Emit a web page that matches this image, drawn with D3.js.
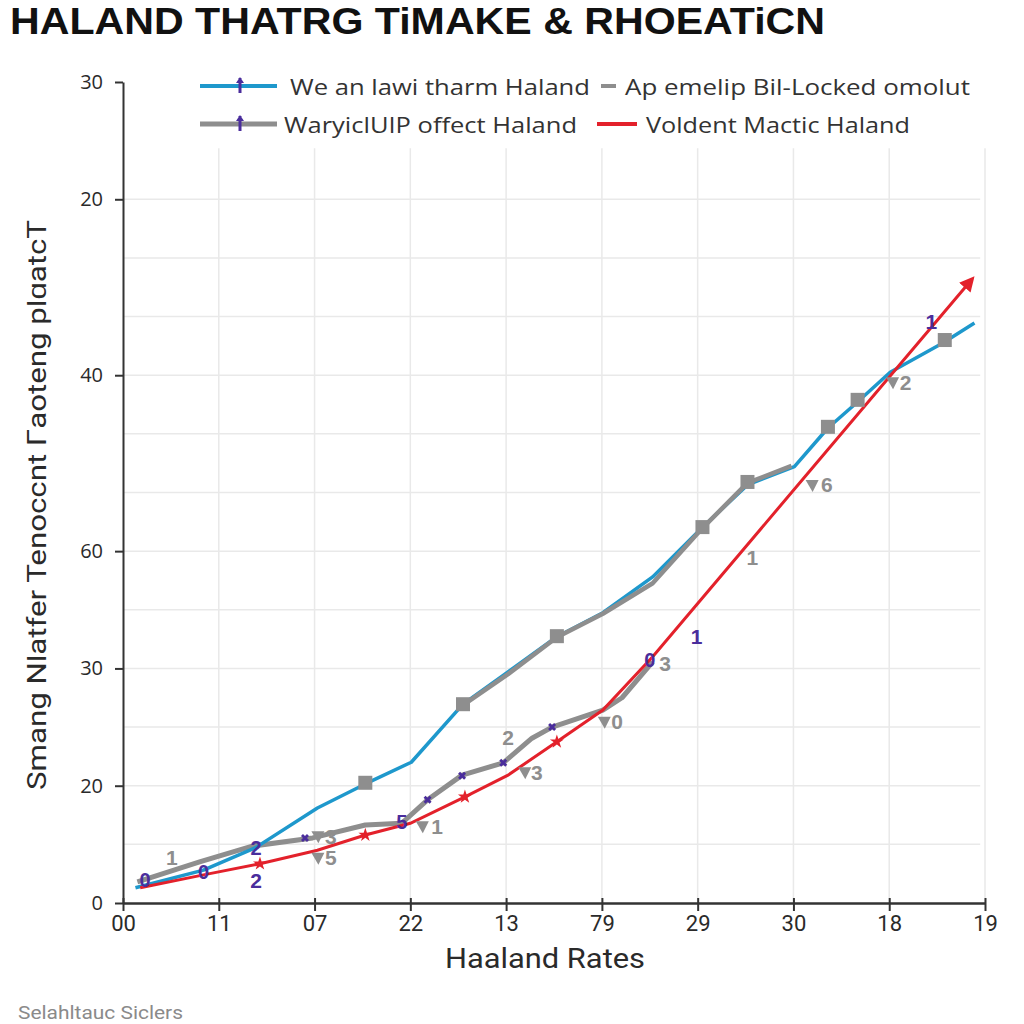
<!DOCTYPE html>
<html><head><meta charset="utf-8">
<script src="https://cdn.jsdelivr.net/npm/d3@7/dist/d3.min.js"></script>
<style>body{margin:0;background:#fff}svg{display:block}</style>
</head><body>
<svg id="c" width="1024" height="1024"></svg>
<script>
// ---------- data ----------
const titleText = "HALAND THATRG TiMAKE & RHOEATiCN";
const yTitle = "Smang Nlatfer Tenoccnt Гaoteng plɑatcT";
const xTitle = "Haaland Rates";
const footer = "Selahltauc Siclers";
const xTickLabels = ["00","11","07","22","13","79","29","30","18","19"];
const yTickVals = [0,2,4,6,9,12,14];
const yTickLabels = ["0","20","30","60","40","20","30"];
const seriesNames = ["We an lawi tharm Haland","Ap emelip Bil-Locked omolut","WaryiclUIP offect Haland","Voldent Mactic Haland"];

const blue = [[0.13,0.26],[0.84,0.56],[1.38,0.94],[2.03,1.62],[2.53,2.03],[3.01,2.40],[3.55,3.39],[4.02,3.94],[4.53,4.54],[5.01,4.95],[5.53,5.56],[6.04,6.39],[6.52,7.13],[7.01,7.44],[7.36,8.10],[7.66,8.53],[8.01,9.05],[8.56,9.55],[8.89,9.89]];
const grayA = [[3.55,3.39],[4.02,3.92],[4.53,4.55],[5.01,4.95],[5.53,5.47],[6.05,6.41],[6.52,7.18],[6.98,7.47]];
const grayASquares = [[2.53,2.05],[3.55,3.39],[4.53,4.55],[6.05,6.41],[6.52,7.18],[7.36,8.12],[7.67,8.58],[8.58,9.60]];
const grayB = [[0.15,0.36],[0.80,0.70],[1.35,0.97],[1.98,1.11],[2.53,1.33],[2.91,1.36],[3.18,1.76],[3.54,2.18],[3.97,2.39],[4.27,2.81],[4.48,3.00],[5.01,3.29],[5.21,3.50],[5.53,4.11]];
const red = [[0.18,0.26],[0.84,0.48],[1.43,0.67],[2.03,0.90],[2.53,1.16],[3.00,1.36],[3.57,1.81],[4.02,2.18],[4.53,2.75],[5.01,3.29],[5.53,4.20],[8.84,10.59]];
const redMarks = [[1.43,0.67],[2.53,1.16],[3.57,1.81],[4.53,2.75]];
const purpleGlyphs = [[0.23,0.39,"0"],[0.84,0.53,"0"],[1.39,0.94,"2"],[2.91,1.38,"5"],[5.50,4.14,"0"]];
const purpleDots = [[1.90,1.11],[3.18,1.76],[3.54,2.17],[3.97,2.39],[4.48,3.00]];
const grayTris = [[2.04,0.77],[2.04,1.14],[3.13,1.31],[4.20,2.23],[5.03,3.09],[7.20,7.13],[8.04,8.88]];
const annoX = [0.51,1.39,2.17,2.17,3.28,4.02,4.32,5.16,5.66,5.99,6.57,7.35,8.17,8.44];
const annoY = [0.77,0.39,0.77,1.14,1.31,2.83,2.23,3.09,4.08,4.54,5.90,7.13,8.88,9.91];
const annoT = ["1","2","5","3","1","2","3","0","3","1","1","6","2","1"];
const annoPurple = [false,true,false,false,false,false,false,false,false,true,false,false,false,true];

// ---------- drawing ----------
const C = {blue:"#1e98cc", gray:"#8e8e8e", red:"#e3212b", purple:"#4a2d9c", text:"#2a2a2a", grid:"#e9e9e9"};
const svg = d3.select("#c");
const x = d3.scaleLinear().domain([0,9]).range([123,985]);
const y = d3.scaleLinear().domain([0,14]).range([903,82]);

svg.append("text").attr("x",10).attr("y",34).text(titleText)
  .attr("font-family","Liberation Sans, Arial, sans-serif").attr("font-weight","bold")
  .attr("font-size",37).attr("fill","#111").attr("textLength",815).attr("lengthAdjust","spacingAndGlyphs");

// grid
const g = svg.append("g");
g.selectAll(".hg").data(d3.range(1,13)).join("line")
  .attr("x1",x(0)).attr("x2",x(8.95)).attr("y1",d=>y(d)).attr("y2",d=>y(d))
  .attr("stroke",C.grid).attr("stroke-width",1.5);
g.selectAll(".vg").data(d3.range(1,10)).join("line")
  .attr("x1",d=>x(d)).attr("x2",d=>x(d)).attr("y1",y(12.87)).attr("y2",y(0))
  .attr("stroke",C.grid).attr("stroke-width",1.5);

// axes
const ya = svg.append("g").attr("transform",`translate(${x(0)},0)`)
  .call(d3.axisLeft(y).tickValues(yTickVals).tickFormat((d,i)=>yTickLabels[i]).tickSize(8).tickSizeOuter(0));
ya.select(".domain").attr("stroke","#333").attr("stroke-width",2);
ya.selectAll(".tick line").attr("stroke","#333").attr("stroke-width",2);
ya.selectAll(".tick text").attr("font-family","Open Sans, sans-serif").attr("font-size",20).attr("fill",C.text).attr("x",-20);

const xa = svg.append("g").attr("transform",`translate(0,${y(0)})`)
  .call(d3.axisBottom(x).tickValues(d3.range(10)).tickFormat((d,i)=>xTickLabels[i]).tickSize(8).tickSizeOuter(0));
xa.select(".domain").attr("stroke","#333").attr("stroke-width",2.5);
xa.selectAll(".tick line").attr("stroke","#333").attr("stroke-width",2).attr("y1",-5);
xa.selectAll(".tick text").attr("font-family","Roboto, sans-serif").attr("font-size",22).attr("fill",C.text).attr("y",12);

svg.append("text").attr("transform",`translate(46,505) rotate(-90)`).attr("text-anchor","middle").text(yTitle)
  .attr("font-family","Roboto, sans-serif").attr("font-size",26).attr("fill",C.text)
  .attr("textLength",570).attr("lengthAdjust","spacingAndGlyphs");
svg.append("text").attr("x",545).attr("y",968).attr("text-anchor","middle").text(xTitle)
  .attr("font-family","Roboto, sans-serif").attr("font-size",28).attr("fill",C.text)
  .attr("textLength",200).attr("lengthAdjust","spacingAndGlyphs");
svg.append("text").attr("x",18).attr("y",1019).text(footer)
  .attr("font-family","Roboto, sans-serif").attr("font-size",19).attr("fill","#8a8a8a")
  .attr("textLength",165).attr("lengthAdjust","spacingAndGlyphs");

// lines
const line = d3.line().x(d=>x(d[0])).y(d=>y(d[1]));
const defs = svg.append("defs");
defs.append("marker").attr("id","arr").attr("viewBox","0 0 10 10").attr("refX",5).attr("refY",5)
  .attr("markerWidth",5).attr("markerHeight",5).attr("orient","auto")
  .append("path").attr("d","M0,0L10,5L0,10z").attr("fill",C.red);

svg.append("path").datum(grayB).attr("d",line).attr("fill","none").attr("stroke",C.gray).attr("stroke-width",5).attr("stroke-linejoin","round");
svg.append("path").datum(blue).attr("d",line).attr("fill","none").attr("stroke",C.blue).attr("stroke-width",3.5).attr("stroke-linejoin","round");
svg.append("path").datum(grayA).attr("d",line).attr("fill","none").attr("stroke",C.gray).attr("stroke-width",4.5).attr("stroke-linejoin","round").attr("transform","translate(0,1)");
svg.append("path").datum(red).attr("d",line).attr("fill","none").attr("stroke",C.red).attr("stroke-width",3).attr("marker-end","url(#arr)");

// markers
svg.selectAll(".sq").data(grayASquares).join("rect")
  .attr("x",d=>x(d[0])-7).attr("y",d=>y(d[1])-7).attr("width",14).attr("height",14).attr("fill",C.gray);
svg.selectAll(".rd").data(redMarks).join("path")
  .attr("d",d3.symbol(d3.symbolStar,60)).attr("transform",d=>`translate(${x(d[0])},${y(d[1])})`).attr("fill",C.red);
svg.selectAll(".pd").data(purpleDots).join("path")
  .attr("d",d3.symbol(d3.symbolCross,40)).attr("transform",d=>`translate(${x(d[0])},${y(d[1])}) rotate(45)`).attr("fill",C.purple);
svg.selectAll(".tr").data(grayTris).join("path")
  .attr("d","M-7,-5L6,-5L0,7z").attr("transform",d=>`translate(${x(d[0])},${y(d[1])})`).attr("fill",C.gray);
svg.selectAll(".pg").data(purpleGlyphs).join("text")
  .attr("x",d=>x(d[0])).attr("y",d=>y(d[1])).attr("text-anchor","middle").attr("dominant-baseline","central")
  .text(d=>d[2]).attr("font-family","Liberation Sans, sans-serif").attr("font-weight","bold").attr("font-size",20).attr("fill",C.purple);
svg.selectAll(".an").data(annoT).join("text")
  .attr("x",(d,i)=>x(annoX[i])).attr("y",(d,i)=>y(annoY[i])).attr("text-anchor","middle").attr("dominant-baseline","central")
  .text(d=>d).attr("font-family","Liberation Sans, sans-serif").attr("font-weight","bold").attr("font-size",21)
  .attr("fill",(d,i)=>annoPurple[i]?C.purple:C.gray);

// legend
const L = svg.append("g").attr("font-family","Open Sans, sans-serif").attr("font-size",22).attr("fill","#333");
const legendItems = [
  {x1:200,x2:277,yy:86,c:C.blue,w:4,tx:290,tl:300,m:true},
  {x1:601,x2:616,yy:86,c:C.gray,w:4,tx:625,tl:345,m:false},
  {x1:200,x2:277,yy:124,c:C.gray,w:5,tx:284,tl:293,m:true},
  {x1:597,x2:637,yy:124,c:C.red,w:4,tx:646,tl:264,m:false}
];
legendItems.forEach((it,i)=>{
  L.append("line").attr("x1",it.x1).attr("x2",it.x2).attr("y1",it.yy).attr("y2",it.yy).attr("stroke",it.c).attr("stroke-width",it.w);
  if(it.m) L.append("path").attr("d","M-1.5,-8L1.5,-8L1.5,7L-1.5,7z M-4,-3L0,-9L4,-3z").attr("transform",`translate(240,${it.yy})`).attr("fill",C.purple);
  L.append("text").attr("x",it.tx).attr("y",it.yy).attr("dominant-baseline","central").text(seriesNames[i])
    .attr("textLength",it.tl).attr("lengthAdjust","spacingAndGlyphs");
});
</script>
</body></html>
